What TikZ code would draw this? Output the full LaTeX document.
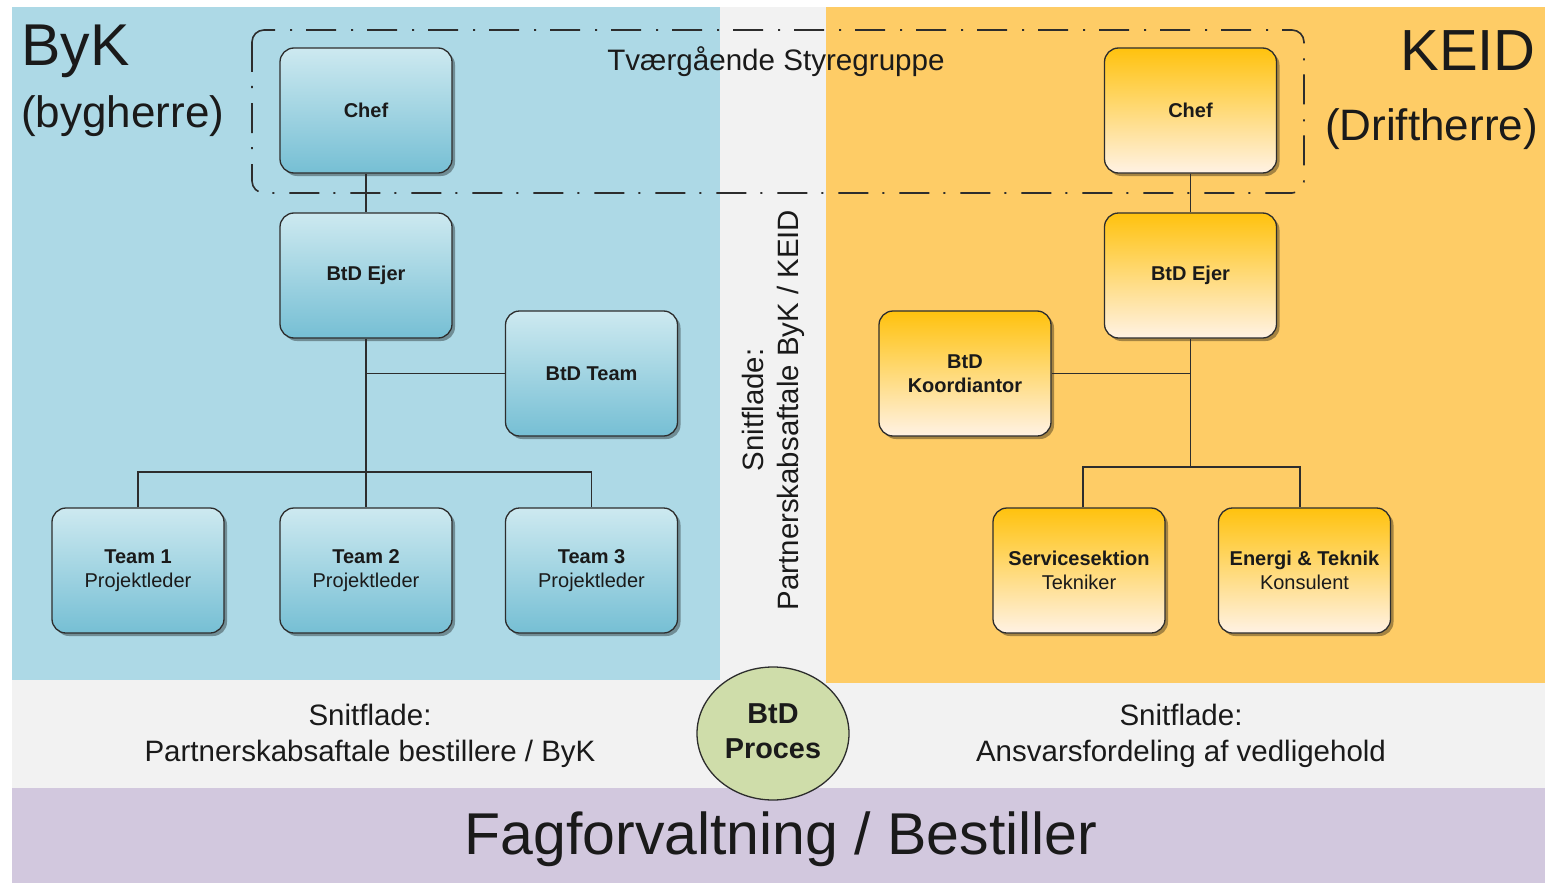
\documentclass[tikz,border=0pt]{standalone}
\usepackage{fontspec}
\setmainfont{Liberation Sans}
\usetikzlibrary{shapes.geometric,shadows}
\definecolor{regblue}{RGB}{173,217,230}
\definecolor{regorange}{RGB}{254,204,102}
\definecolor{reggray}{RGB}{242,242,242}
\definecolor{regpurple}{RGB}{210,200,222}
\definecolor{bluetop}{RGB}{205,233,240}
\definecolor{bluebot}{RGB}{118,191,212}
\definecolor{orgtop}{RGB}{255,194,14}
\definecolor{orgbot}{RGB}{255,242,228}
\definecolor{procfill}{RGB}{207,221,170}
\definecolor{ink}{RGB}{26,26,26}
\definecolor{edge}{RGB}{45,45,45}
\tikzset{
  orgbox/.style={rectangle, rounded corners=14pt, draw=edge, line width=1.3pt,
    minimum width=172pt, minimum height=125pt, align=center, text=ink,
    font=\fontsize{20}{24}\selectfont,
    drop shadow={shadow xshift=3pt, shadow yshift=-3pt, opacity=0.35, fill=black}},
  bluebox/.style={orgbox, top color=bluetop, bottom color=bluebot},
  orangebox/.style={orgbox, top color=orgtop, bottom color=orgbot},
  link/.style={draw=edge, line width=1.5pt},
  bigtxt/.style={text=ink, inner sep=0pt},
}
\begin{document}
\begin{tikzpicture}[x=1pt,y=-1pt]
\useasboundingbox (0,0) rectangle (1545,883);
% regions
\fill[white] (0,0) rectangle (1545,883);
\fill[regblue] (12,7) rectangle (720,680);
\fill[reggray] (720,7) rectangle (826,680);
\fill[regorange] (826,7) rectangle (1545,683);
\fill[reggray] (12,683) rectangle (1545,788);
\fill[reggray] (12,680) rectangle (826,683);
\fill[regpurple] (12,788) rectangle (1545,883);

% steering group frame
\draw[edge, line width=1.6pt, rounded corners=12pt, dash pattern=on 30pt off 14pt on 2pt off 15pt]
  (252,30) rectangle (1304,193);
\node[bigtxt, font=\fontsize{29.6}{34}\selectfont] (styre) at (776,62) {Tværgående Styregruppe};

% titles
\node[bigtxt, anchor=west, font=\fontsize{59}{66}\selectfont] (byk) at (21,51) {ByK};
\node[bigtxt, anchor=west, font=\fontsize{44}{50}\selectfont] (bygherre) at (21,116) {(bygherre)};
\node[bigtxt, anchor=east, font=\fontsize{58}{66}\selectfont] (keid) at (1536,51) {KEID};
\node[bigtxt, anchor=east, font=\fontsize{44}{50}\selectfont] (drift) at (1538,129) {(Driftherre)};

% vertical interface text
\node[bigtxt, rotate=90, align=center, font=\fontsize{29.4}{35}\selectfont] (vsnit) at (773,410)
  {Snitflade:\\Partnerskabsaftale ByK / KEID};

% blue org chart
\node[bluebox] (bchef) at (366,110.5) {\textbf{Chef}};
\node[bluebox] (bejer) at (366,275.5) {\textbf{BtD Ejer}};
\node[bluebox] (bteam) at (591.5,373.5) {\textbf{BtD Team}};
\node[bluebox] (bt1) at (138,570.5) {\textbf{Team 1}\\Projektleder};
\node[bluebox] (bt2) at (366,570.5) {\textbf{Team 2}\\Projektleder};
\node[bluebox] (bt3) at (591.5,570.5) {\textbf{Team 3}\\Projektleder};
\coordinate (bj) at (366,472);
\draw[link] (bchef.south) -- (bejer.north);
\draw[link] (bejer.south) -- (bt2.north);
\draw[link] (bteam.west) -- (bteam.west -| bejer.south);
\draw[link] (bt1.north) |- (bj) -| (bt3.north);

% orange org chart
\node[orangebox] (ochef) at (1190.5,110.5) {\textbf{Chef}};
\node[orangebox] (oejer) at (1190.5,275.5) {\textbf{BtD Ejer}};
\node[orangebox] (okoord) at (965,373.5) {\textbf{BtD}\\\textbf{Koordiantor}};
\node[orangebox] (oserv) at (1079,570.5) {\textbf{Servicesektion}\\Tekniker};
\node[orangebox] (oenergi) at (1304.5,570.5) {\textbf{Energi \& Teknik}\\Konsulent};
\coordinate (oj) at (1190.5,467);
\coordinate (osl) at (1083,467);
\coordinate (oel) at (1300,467);
\draw[link] (ochef.south) -- (oejer.north);
\draw[link] (oejer.south) -- (oj);
\draw[link] (okoord.east) -- (okoord.east -| oejer.south);
\draw[link] (osl |- oserv.north) -- (osl) -- (oel) -- (oel |- oenergi.north);

% bottom interface texts
\node[bigtxt, align=center, font=\fontsize{29.5}{36}\selectfont] (lsnit) at (370,736)
  {Snitflade:\\Partnerskabsaftale bestillere / ByK};
\node[bigtxt, align=center, font=\fontsize{29.5}{36}\selectfont] (rsnit) at (1181,736)
  {Snitflade:\\Ansvarsfordeling af vedligehold};

% process ellipse
\node[ellipse, draw=edge, line width=1.3pt, fill=procfill, minimum width=152pt, minimum height=133pt,
  inner sep=0pt, text=ink, font=\bfseries\fontsize{28.8}{35}\selectfont] (proc) at (773,733.5)
  {\raisebox{3pt}{\begin{tabular}{@{}c@{}}BtD\\Proces\end{tabular}}};

% bottom band
\node[bigtxt, font=\fontsize{59}{66}\selectfont] (fag) at (781,839) {Fagforvaltning / Bestiller};
\end{tikzpicture}
\end{document}
